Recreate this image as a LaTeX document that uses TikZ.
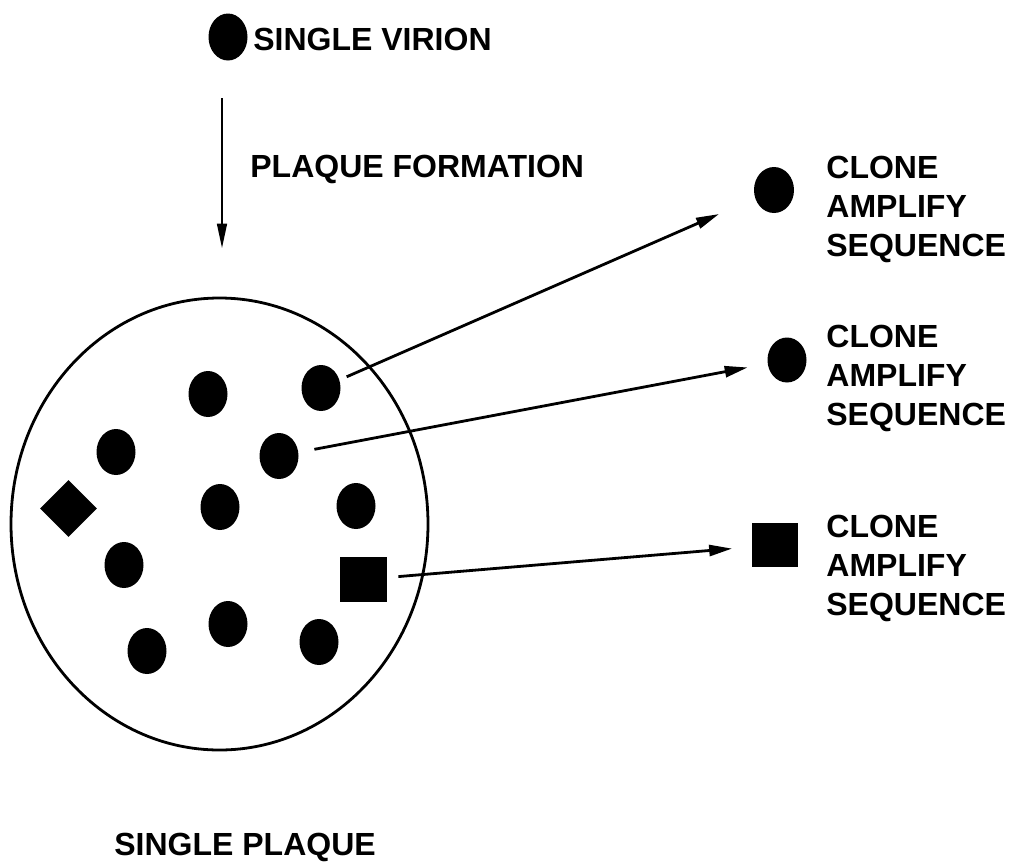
\documentclass[tikz,border=0pt]{standalone}
\usepackage{fontspec}
\setmainfont{Liberation Sans}
\usetikzlibrary{shapes.geometric,arrows.meta}

\begin{document}
\begin{tikzpicture}[x=0.5pt,y=-0.5pt,
  dot/.style={ellipse,fill=black,inner sep=0pt,minimum width=19.5pt,minimum height=23pt},
  blk/.style={rectangle,fill=black,inner sep=0pt,minimum width=23.5pt,minimum height=22.5pt},
  lbl/.style={font=\fontsize{16}{19.5}\selectfont\bfseries,inner sep=0pt,anchor=base west,align=left},
  arr/.style={line width=1.4pt,-{Triangle[length=11.5pt,width=5.5pt]}}]
  \useasboundingbox (0,0) rectangle (1014,864);
  \node[ellipse,draw,line width=1.4pt,inner sep=0pt,minimum width=208.5pt,minimum height=226pt] (plq) at (219.5,524) {};
  \node[dot,minimum height=23.5pt] (vir) at (228,37) {};
  \node[lbl] (tvir) at (253,50) {SINGLE VIRION};
  \coordinate (fa) at (222,98);
  \draw[arr,-{Triangle[length=12.5pt,width=4.8pt]},shorten >=24pt] (fa) -- (fa |- plq.north);
  \node[lbl] (tform) at (250,177) {PLAQUE FORMATION};
  \node[dot] (d1) at (208,394) {};
  \node[dot] (d2) at (321,388) {};
  \node[dot] (d3) at (116,452) {};
  \node[dot] (d4) at (279,456) {};
  \node[dot] (d5) at (220,507) {};
  \node[dot] (d6) at (356,506) {};
  \node[dot] (d7) at (124,565) {};
  \node[dot] (d8) at (228,624) {};
  \node[dot] (d9) at (147,651) {};
  \node[dot] (d10) at (319,642) {};
  \node[diamond,fill=black,inner sep=0pt,minimum width=28.5pt,minimum height=28.5pt] (dm) at (68.5,508.5) {};
  \node[blk] (sq) at (363.5,579.5) {};
  \node[dot,minimum width=20pt] (out1) at (774,190) {};
  \node[dot,minimum height=22.5pt] (out2) at (787,360) {};
  \node[blk,minimum width=23pt,minimum height=22pt] (out3) at (775,545) {};
  \draw[arr,shorten <=14pt,shorten >=30pt] (d2.center) -- (out1.center);
  \draw[arr,shorten <=18pt,shorten >=20pt] (d4.center) -- (out2.center);
  \draw[arr,shorten <=17.5pt,shorten >=21.5pt] (sq.center) -- (out3.center);
  \node[lbl] (t1) at (826,256) {CLONE\\AMPLIFY\\SEQUENCE};
  \node[lbl] (t2) at (826,425) {CLONE\\AMPLIFY\\SEQUENCE};
  \node[lbl] (t3) at (826,615) {CLONE\\AMPLIFY\\SEQUENCE};
  \node[lbl] (tplq) at (114,855) {SINGLE PLAQUE};
\end{tikzpicture}
\end{document}
